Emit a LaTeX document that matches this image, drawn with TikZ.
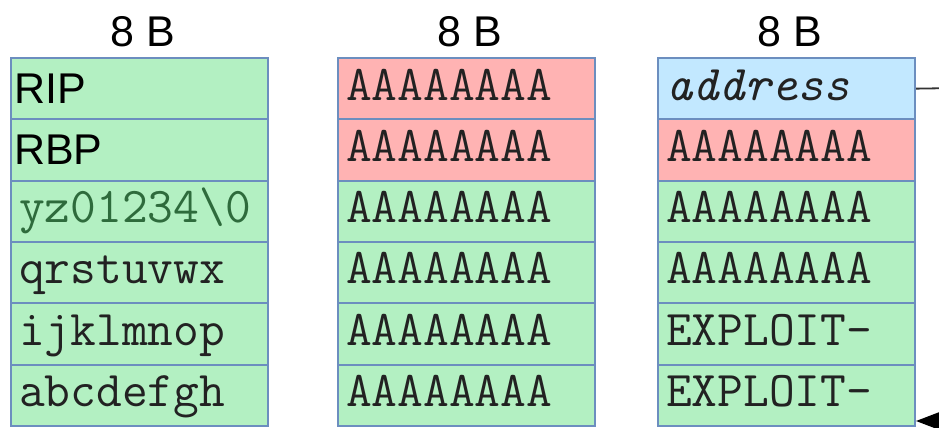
\documentclass[tikz,border=0pt]{standalone}
\usepackage{fontspec}
\setmainfont{Liberation Sans}
\usetikzlibrary{arrows.meta}
\definecolor{cgreen}{HTML}{B3F0C2}
\definecolor{cred}{HTML}{FFB3B3}
\definecolor{cblue}{HTML}{C2E8FF}
\definecolor{cborder}{HTML}{6C8EBF}
\definecolor{ctext}{HTML}{222222}
\definecolor{cdkgreen}{HTML}{2E6B3C}
\tikzset{
  cell/.style={draw=cborder, line width=2pt, minimum width=257pt, minimum height=61.3pt, inner sep=0pt, anchor=north west},
  gcell/.style={cell, fill=cgreen},
  rcell/.style={cell, fill=cred},
  bcell/.style={cell, fill=cblue},
  mono/.style={anchor=base west, inner sep=0pt, font=\fontsize{50}{50}\ttfamily, text=ctext},
  reg/.style={anchor=base west, inner sep=0pt, font=\fontsize{43}{43}\selectfont, text=black},
  hdr/.style={anchor=base, inner sep=0pt, font=\fontsize{43}{43}\selectfont, text=black},
  link/.style={draw=black!80, line width=1.8pt},
}
\begin{document}
\begin{tikzpicture}[x=1pt,y=-1pt]
\useasboundingbox (0,0) rectangle (939,428);
% column 1
\node[hdr] (h1) at (143,47) {8 B};
\node[gcell] (a0) at (10,57) {};
\node[gcell] (a1) at (10,118.3) {};
\node[gcell] (a2) at (10,179.6) {};
\node[gcell] (a3) at (10,240.9) {};
\node[gcell] (a4) at (10,302.2) {};
\node[gcell] (a5) at (10,363.5) {};
\node[reg] (ta0) at (14,103) {RIP};
\node[reg] (ta1) at (14,164.3) {RBP};
\node[mono, text=cdkgreen] (ta2) at (19,222.6) {yz01234\textbackslash0};
\node[mono] (ta3) at (19,283.9) {qrstuvwx};
\node[mono] (ta4) at (19,345.2) {ijklmnop};
\node[mono] (ta5) at (19,406.5) {abcdefgh};
% column 2
\node[hdr] (h2) at (470,47) {8 B};
\node[rcell] (b0) at (337,57) {};
\node[rcell] (b1) at (337,118.3) {};
\node[gcell] (b2) at (337,179.6) {};
\node[gcell] (b3) at (337,240.9) {};
\node[gcell] (b4) at (337,302.2) {};
\node[gcell] (b5) at (337,363.5) {};
\node[mono] (tb0) at (346,100) {AAAAAAAA};
\node[mono] (tb1) at (346,161.3) {AAAAAAAA};
\node[mono] (tb2) at (346,222.6) {AAAAAAAA};
\node[mono] (tb3) at (346,283.9) {AAAAAAAA};
\node[mono] (tb4) at (346,345.2) {AAAAAAAA};
\node[mono] (tb5) at (346,406.5) {AAAAAAAA};
% column 3
\node[hdr] (h3) at (790,47) {8 B};
\node[bcell] (c0) at (657,57) {};
\node[rcell] (c1) at (657,118.3) {};
\node[gcell] (c2) at (657,179.6) {};
\node[gcell] (c3) at (657,240.9) {};
\node[gcell] (c4) at (657,302.2) {};
\node[gcell] (c5) at (657,363.5) {};
\node[mono, font=\fontsize{50}{50}\ttfamily\itshape] (tc0) at (666,100) {address};
\node[mono] (tc1) at (666,161.3) {AAAAAAAA};
\node[mono] (tc2) at (666,222.6) {AAAAAAAA};
\node[mono] (tc3) at (666,283.9) {AAAAAAAA};
\node[mono] (tc4) at (666,345.2) {EXPLOIT-};
\node[mono] (tc5) at (666,406.5) {EXPLOIT-};
% connector from address back to the exploit
\coordinate (r1) at (990,87.5);
\coordinate (r2) at (990,421);
\draw[link, -{Triangle[length=32pt,width=24pt,color=black]}] (c0.east) -- (r1) -- (r2) -- (c5.east |- r2);
\end{tikzpicture}
\end{document}
